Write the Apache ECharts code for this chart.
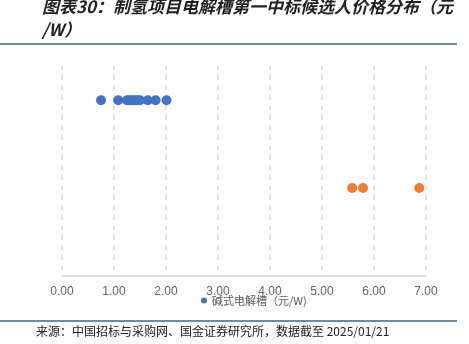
<!DOCTYPE html>
<html><head><meta charset="utf-8">
<script src="https://cdn.jsdelivr.net/npm/echarts@6/dist/echarts.min.js"></script>
<style>html,body{margin:0;padding:0;background:#fff}#c{width:469px;height:344px}</style>
</head><body><div id="c"></div>
<script>
var titleText = '图表30：制氢项目电解槽第一中标候选人价格分布（元\n/W）';
var sourceText = '来源：中国招标与采购网、国金证券研究所，数据截至 2025/01/21';
var alkName = '碱式电解槽（元/W)';
var pemName = 'PEM电解槽（元/W)';
var alkPrices = [0.75, 1.08, 1.25, 1.3, 1.35, 1.4, 1.45, 1.5, 1.65, 1.8, 2.01];
var alkLevel = 1.0;
var pemPrices = [5.58, 5.79, 6.87];
var pemLevel = 0.5;
var xTicks = [0, 1, 2, 3, 4, 5, 6, 7];

var chart = echarts.init(document.getElementById('c'));
chart.setOption({
  animation: false,
  title: {
    text: titleText, left: 37, top: -10,
    textStyle: {fontFamily: 'Noto Sans CJK SC', fontSize: 17, fontWeight: 'bold', fontStyle: 'italic', color: '#222', lineHeight: 23}
  },
  graphic: [
    {type: 'line', shape: {x1: 0, y1: 44, x2: 457, y2: 44}, style: {stroke: '#3d6489', lineWidth: 1.5}},
    {type: 'line', shape: {x1: 0, y1: 321, x2: 457, y2: 321}, style: {stroke: '#3d6489', lineWidth: 1.5}},
    {type: 'text', left: 36, top: 325, style: {text: sourceText, font: '12px "Noto Sans CJK SC"', fill: '#222'}}
  ],
  legend: {
    data: [alkName], bottom: 33, left: 196, itemWidth: 6, itemHeight: 6, itemGap: 4,
    icon: 'circle',
    textStyle: {fontSize: 11, color: '#595959', fontFamily: 'Noto Sans CJK SC'}
  },
  grid: {left: 62, right: 43, top: 65, bottom: 68},
  xAxis: {
    type: 'value', min: 0, max: 7, interval: 1,
    axisLine: {show: true, lineStyle: {color: '#d9d9d9', width: 1.5}},
    axisTick: {show: false},
    axisLabel: {color: '#666', fontSize: 12, fontFamily: 'Liberation Sans', formatter: function(v){return v.toFixed(2);}, margin: 10},
    splitLine: {show: true, lineStyle: {color: '#d9d9d9', type: [5, 5], width: 1.5}}
  },
  yAxis: {
    type: 'value', min: 0, max: 1.2, show: false, splitLine: {show: false}
  },
  series: [
    {name: alkName, type: 'scatter', symbolSize: 10, itemStyle: {color: '#4472C4', opacity: 1},
     data: alkPrices.map(function(p){return [p, alkLevel];})},
    {name: pemName, type: 'scatter', symbolSize: 10, itemStyle: {color: '#ED7D31', opacity: 1},
     data: pemPrices.map(function(p){return [p, pemLevel];})}
  ]
});
</script></body></html>
